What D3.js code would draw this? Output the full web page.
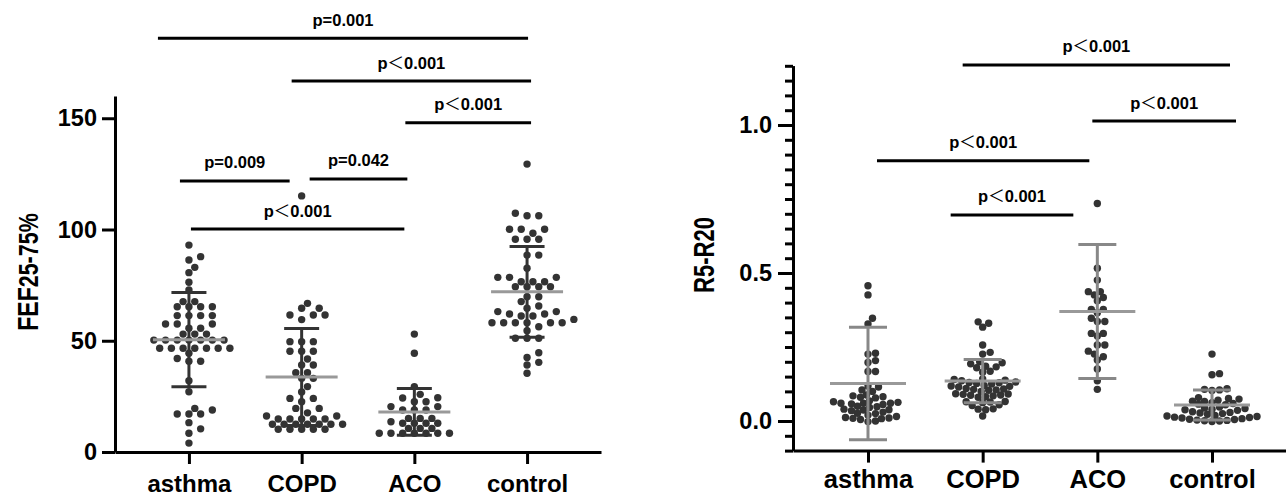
<!DOCTYPE html>
<html lang="en">
<head>
<meta charset="utf-8">
<title>FEF25-75% and R5-R20 by group</title>
<script src="https://cdn.jsdelivr.net/npm/d3@7"></script>
<style>
    body { margin: 0; background: #fff; }
    svg { display: block; font-family: "Liberation Sans", Arial, sans-serif; }
    .axis path, .axis line { stroke: #000; stroke-width: 3; }
    .axis text { font-weight: bold; fill: #000; font-family: "Liberation Sans", Arial, sans-serif; }
    .dot { fill: #333; }
    .sig { stroke: #000; stroke-width: 3; }
    .plab { font-size: 16.5px; font-weight: bold; fill: #000; }
    .lt { font-family: "Noto Sans CJK SC", sans-serif; font-weight: normal; }
    .title { font-weight: bold; fill: #000; }
</style>
</head>
<body>
<script>

var groups = ["asthma", "COPD", "ACO", "control"];

// FEF25-75% (left panel)
var fefAsthma = [93.0, 87.8, 86.3, 83.0, 80.6, 76.3, 72.8, 67.6, 67.6, 65.3, 65.3, 65.3, 65.3,
    61.3, 61.3, 61.3, 61.3, 57.5, 57.5, 57.5, 55.6, 55.6, 53.0, 53.0, 53.0,
    50.3, 50.3, 50.3, 50.3, 50.3, 50.3, 50.3, 46.6, 46.6, 46.6, 46.6, 46.6, 46.6, 46.6,
    44.4, 42.0, 40.8, 40.8, 32.0, 27.1, 19.6, 18.9, 17.1, 17.1, 17.1, 13.2, 10.4, 8.4, 4.0];
var fefCopd = [115.1, 66.8, 64.6, 64.6, 61.6, 61.6, 61.6, 59.5, 49.6, 49.6, 49.6, 45.3, 45.3, 45.3,
    41.8, 39.1, 39.1, 35.6, 35.6, 33.1, 33.1, 29.4, 27.0, 24.1, 24.1, 22.6, 19.6, 19.6, 17.6,
    16.2, 16.2, 14.8, 14.8, 14.8, 14.8, 14.8, 12.5, 12.5, 12.5, 12.5, 12.5, 12.5, 12.5,
    10.2, 10.2, 10.2, 10.2, 10.2];
var fefAco = [53.0, 44.4, 29.4, 25.9, 24.4, 24.3, 22.6, 22.6, 20.4, 20.4, 18.9, 18.9, 18.9,
    15.1, 15.1, 15.1, 13.6, 12.9, 12.9, 12.9, 12.9, 10.6, 10.6, 10.6,
    8.4, 8.4, 8.4, 8.4, 8.4, 8.4, 8.4];
var fefControl = [129.4, 107.3, 106.2, 106.2, 100.1, 100.1, 100.1, 98.3, 95.6, 95.6, 95.6, 88.5, 88.5,
    82.6, 78.5, 78.5, 78.5, 76.5, 76.5, 76.5, 74.3, 74.3, 74.3, 74.3, 69.8, 69.8, 67.6, 65.6,
    64.6, 63.1, 63.1, 62.0, 62.0, 61.1, 61.1, 59.6, 58.1, 58.1, 58.1, 58.1, 58.1, 58.1,
    56.3, 54.5, 51.1, 51.1, 51.1, 44.6, 42.5, 40.3, 39.1, 35.4];
var fefMean = [50.5, 33.7, 18.0, 72.0];
var fefSd = [21.2, 21.8, 10.5, 20.4];
var fefTicks = [0, 50, 100, 150];

// R5-R20 (right panel)
var rAsthma = [0.457, 0.426, 0.347, 0.328, 0.229, 0.226, 0.204, 0.198, 0.167, 0.167, 0.118, 0.115,
    0.105, 0.100, 0.088, 0.085, 0.082, 0.080, 0.078, 0.068, 0.065, 0.063, 0.060, 0.060, 0.060,
    0.058, 0.056, 0.050, 0.048, 0.046, 0.040, 0.038, 0.037, 0.035, 0.030, 0.026, 0.025, 0.020,
    0.015, 0.012, 0.010, 0.009, 0.008, 0.005, 0.000, -0.002];
var rCopd = [0.335, 0.330, 0.317, 0.257, 0.232, 0.226, 0.200, 0.197, 0.193, 0.185, 0.183, 0.180,
    0.168, 0.165, 0.142, 0.140, 0.138, 0.136, 0.132, 0.130, 0.129, 0.127, 0.125, 0.120, 0.118,
    0.117, 0.115, 0.110, 0.108, 0.107, 0.105, 0.104, 0.100, 0.092, 0.091, 0.090, 0.088, 0.087,
    0.085, 0.082, 0.080, 0.066, 0.065, 0.064, 0.062, 0.055, 0.052, 0.041, 0.040, 0.038, 0.017];
var rAco = [0.735, 0.516, 0.476, 0.437, 0.437, 0.426, 0.417, 0.406, 0.377, 0.377, 0.366, 0.347,
    0.336, 0.336, 0.296, 0.296, 0.287, 0.257, 0.257, 0.236, 0.226, 0.217, 0.206, 0.176, 0.136, 0.107];
var rControl = [0.226, 0.160, 0.156, 0.109, 0.107, 0.105, 0.103, 0.079, 0.076, 0.074, 0.070, 0.067,
    0.066, 0.062, 0.059, 0.057, 0.055, 0.047, 0.044, 0.042, 0.040, 0.038, 0.036, 0.031, 0.029,
    0.027, 0.025, 0.023, 0.019, 0.017, 0.015, 0.013, 0.012, 0.010, 0.008, 0.006, 0.005, 0.003,
    0.002, 0.001, 0.000, -0.002];
var rMean = [0.127, 0.135, 0.370, 0.054];
var rSd = [0.190, 0.073, 0.226, 0.051];
var rTicks = [0, 0.5, 1.0];

// significance brackets: compared groups, height (axis units), label
var fefPairs = [["asthma", "control"], ["COPD", "control"], ["ACO", "control"],
    ["asthma", "COPD"], ["COPD", "ACO"], ["asthma", "ACO"]];
var fefPLevel = [186, 166.7, 148, 121.8, 122.7, 100.2];
var fefPLabel = ["p=0.001", "p<0.001", "p<0.001", "p=0.009", "p=0.042", "p<0.001"];

var rPairs = [["COPD", "control"], ["ACO", "control"], ["asthma", "ACO"], ["COPD", "ACO"]];
var rPLevel = [1.203, 1.0135, 0.879, 0.696];
var rPLabel = ["p<0.001", "p<0.001", "p<0.001", "p<0.001"];

var w = 1286, h = 496;

var svg = d3.select("body").append("svg")
    .attr("width", w)
    .attr("height", h);

// simple beeswarm: nearest free offset on a grid of "step" px
function swarm(vals, y, step, minD) {
    var placed = [];
    vals.slice().sort(function(a, b) { return a - b; }).forEach(function(v) {
        var py = y(v);
        for (var k = 0; k < 200; k++) {
            var dx = (k % 2 ? 1 : -1) * Math.ceil(k / 2) * step;
            var free = placed.every(function(p) {
                return (p.dx - dx) * (p.dx - dx) + (p.y - py) * (p.y - py) >= minD * minD;
            });
            if (free) { placed.push({v: v, dx: dx, y: py}); break; }
        }
    });
    return placed;
}

function panel(o) {
    var g = svg.append("g");

    // points
    o.series.forEach(function(vals, i) {
        var cx = o.x(groups[i]);
        g.selectAll(null)
            .data(swarm(vals, o.y, o.step, o.minD))
            .enter().append("circle")
            .attr("class", "dot")
            .attr("cx", function(d) { return cx + d.dx; })
            .attr("cy", function(d) { return d.y; })
            .attr("r", 3.7);
    });

    // mean and SD
    groups.forEach(function(gr, i) {
        var cx = o.x(gr);
        var top = o.y(o.mean[i] + o.sd[i]), bot = o.y(o.mean[i] - o.sd[i]);
        g.append("line").attr("x1", cx).attr("x2", cx).attr("y1", top).attr("y2", bot)
            .attr("stroke", o.barColor).attr("stroke-width", 3);
        [top, bot].forEach(function(yy) {
            g.append("line").attr("x1", cx - o.cap).attr("x2", cx + o.cap).attr("y1", yy).attr("y2", yy)
                .attr("stroke", o.barColor).attr("stroke-width", 3);
        });
        g.append("line").attr("x1", cx - o.meanW).attr("x2", cx + o.meanW)
            .attr("y1", o.y(o.mean[i])).attr("y2", o.y(o.mean[i]))
            .attr("stroke", o.meanColor).attr("stroke-width", 3);
    });

    // axes
    g.append("g")
        .attr("class", "axis")
        .attr("transform", "translate(0," + o.y.range()[0] + ")")
        .call(d3.axisBottom(o.x).tickSize(12).tickSizeOuter(0))
        .call(function(a) {
            a.selectAll("text").attr("y", o.xLabY).attr("dy", 0).style("font-size", o.xFont + "px");
        });

    if (o.minor) {
        g.append("g")
            .attr("class", "axis")
            .attr("transform", "translate(" + o.x.range()[0] + ",0)")
            .call(d3.axisLeft(o.y).tickValues(o.minor).tickSize(8).tickSizeOuter(0).tickFormat(""));
    }
    g.append("g")
        .attr("class", "axis")
        .attr("transform", "translate(" + o.x.range()[0] + ",0)")
        .call(d3.axisLeft(o.y).tickValues(o.ticks).tickSize(o.tickLen).tickSizeOuter(0).tickFormat(o.fmt))
        .call(function(a) {
            a.selectAll("text").attr("x", o.yLabX).style("font-size", o.yFont + "px");
        });

    // axis title, a little taller than wide like the original
    var t = g.append("g")
        .attr("transform", "translate(" + o.titlePos[0] + "," + o.titlePos[1] + ") rotate(-90)")
        .append("text")
        .attr("class", "title")
        .attr("text-anchor", "middle")
        .attr("transform", "scale(1,1.3)");
    o.title.forEach(function(part) {
        t.append("tspan").style("font-size", part[1] + "px").text(part[0]);
    });

    // significance brackets
    o.pairs.forEach(function(pr, i) {
        var x1 = o.x(pr[0]) + o.adj[i][0], x2 = o.x(pr[1]) + o.adj[i][1];
        var yy = o.y(o.pLevel[i]);
        g.append("line").attr("class", "sig")
            .attr("x1", x1).attr("x2", x2).attr("y1", yy).attr("y2", yy);
        var lab = g.append("text").attr("class", "plab")
            .attr("text-anchor", "middle")
            .attr("x", (x1 + x2) / 2)
            .attr("y", yy - 12.5);
        var s = o.pLabel[i];
        if (s.indexOf("<") > 0) {
            lab.append("tspan").text("p");
            lab.append("tspan").attr("class", "lt").text("\uFF1C");
            lab.append("tspan").text(s.slice(2));
        } else {
            lab.text(s);
        }
    });
}

var xL = d3.scalePoint().domain(groups).range([115, 601]).padding(0.656);
var yL = d3.scaleLinear().domain([0, 160]).range([452, 96]);

panel({
    x: xL, y: yL,
    series: [fefAsthma, fefCopd, fefAco, fefControl],
    mean: fefMean, sd: fefSd,
    step: 5.85, minD: 7.5,
    barColor: "#333", meanColor: "#999", cap: 17.5, meanW: 36,
    ticks: fefTicks, fmt: d3.format("d"), tickLen: 13, yLabX: -18, yFont: 23.5,
    xLabY: 40, xFont: 24,
    title: [["FEF", 23], ["25-75%", 21.5]], titlePos: [38, 272],
    pairs: fefPairs, pLevel: fefPLevel, pLabel: fefPLabel,
    adj: [[-31, 1], [-10, 4], [-9, 4], [-9, -12], [8, -7], [2, -10]]
});

var xR = d3.scalePoint().domain(groups).range([793, 1287]).padding(0.654);
var yR = d3.scaleLinear().domain([-0.1, 1.2]).range([450.6, 65.8]);

panel({
    x: xR, y: yR,
    series: [rAsthma, rCopd, rAco, rControl],
    mean: rMean, sd: rSd,
    step: 1.5, minD: 6.4,
    barColor: "#888", meanColor: "#999", cap: 19, meanW: 38,
    ticks: rTicks, fmt: d3.format(".1f"), tickLen: 15, yLabX: -21, yFont: 23.5,
    minor: d3.range(-2, 25).map(function(i) { return i * 0.05; }),
    xLabY: 37, xFont: 25.5,
    title: [["R5-R20", 22]], titlePos: [714, 255],
    pairs: rPairs, pLevel: rPLevel, pLabel: rPLabel,
    adj: [[-20, 18], [-5, 24], [9, -8], [-32, -24]]
});

</script>
</body>
</html>
